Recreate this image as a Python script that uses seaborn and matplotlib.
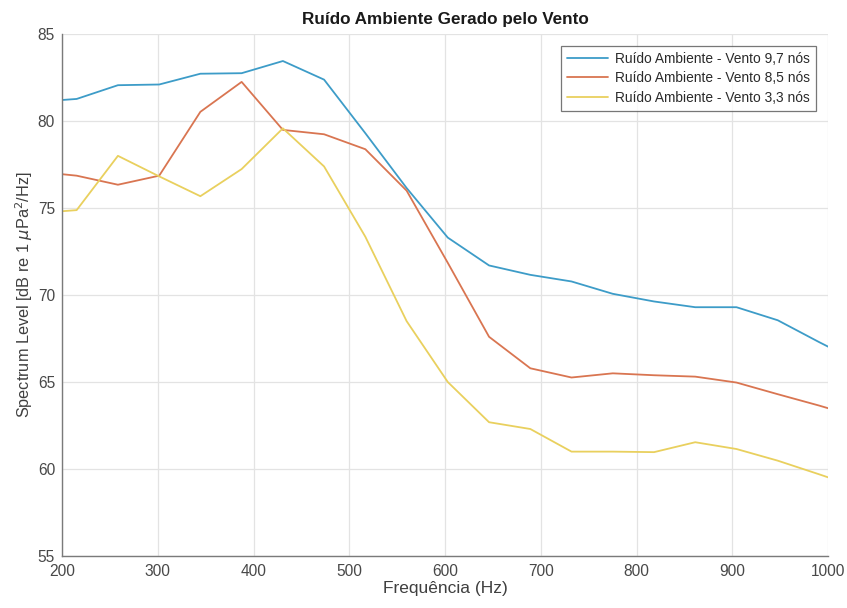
import matplotlib
matplotlib.use("Agg")
import matplotlib.pyplot as plt
import seaborn as sns
import pandas as pd

# FFT bin centres (Hz)
freq = [172.3, 215.3, 258.4, 301.5, 344.5, 387.6, 430.7, 473.7, 516.8, 559.9,
        602.9, 646.0, 689.1, 732.1, 775.2, 818.3, 861.3, 904.4, 947.5, 990.5,
        1033.6]

# Spectrum levels (dB re 1 uPa^2/Hz) for each wind speed
vento_97 = [81.10, 81.27, 82.06, 82.10, 82.72, 82.75, 83.45, 82.38, 79.30, 76.15,
            73.30, 71.70, 71.16, 70.78, 70.07, 69.63, 69.30, 69.30, 68.55, 67.30,
            66.10]
vento_85 = [77.10, 76.86, 76.34, 76.86, 80.53, 82.25, 79.49, 79.24, 78.38, 76.00,
            71.85, 67.60, 65.79, 65.26, 65.50, 65.39, 65.31, 64.97, 64.30, 63.65,
            62.95]
vento_33 = [74.70, 74.88, 78.00, 76.82, 75.68, 77.24, 79.58, 77.39, 73.35, 68.50,
            65.00, 62.69, 62.30, 61.00, 61.00, 60.97, 61.54, 61.15, 60.48, 59.70,
            58.90]

series_names = ["Ruído Ambiente - Vento 9,7 nós",
                "Ruído Ambiente - Vento 8,5 nós",
                "Ruído Ambiente - Vento 3,3 nós"]
series_colors = ["#3d9cc8", "#d97551", "#e9d05e"]

x_ticks = [200, 300, 400, 500, 600, 700, 800, 900, 1000]
y_ticks = [55, 60, 65, 70, 75, 80, 85]

frames = []
for name, vals in zip(series_names, [vento_97, vento_85, vento_33]):
    frames.append(pd.DataFrame({"freq": freq, "level": vals, "serie": name}))
df = pd.concat(frames, ignore_index=True)

sns.set_style("white")
plt.rcParams["font.family"] = ["Liberation Sans", "DejaVu Sans"]
plt.rcParams["mathtext.fontset"] = "dejavusans"

fig = plt.figure(figsize=(8.47, 6.08), dpi=100)
ax = fig.add_axes([0.0732, 0.0855, 0.9044, 0.8585])

sns.lineplot(data=df, x="freq", y="level", hue="serie",
             hue_order=series_names, palette=series_colors,
             linewidth=1.3, ax=ax, sort=False)

ax.set_xlim(200, 1000)
ax.set_ylim(55, 85)
ax.set_xticks(x_ticks)
ax.set_yticks(y_ticks)
ax.grid(True, color="#e3e3e3", linewidth=0.9)
ax.set_axisbelow(True)

for side in ["top", "right"]:
    ax.spines[side].set_visible(False)
for side in ["left", "bottom"]:
    ax.spines[side].set_color("#7a7a7a")
    ax.spines[side].set_linewidth(1.0)

ax.tick_params(axis="both", direction="in", length=5, width=0.9,
               color="#7a7a7a", labelsize=11.2, labelcolor="#484848", pad=5)
ax.tick_params(axis="x", pad=6)

ax.set_xlabel("Frequência (Hz)", fontsize=12.5, color="#3f3f3f", labelpad=1)
ax.set_ylabel(r"Spectrum Level [dB re 1 $\mu$Pa$^2$/Hz]", fontsize=11.7,
              color="#3f3f3f", labelpad=2)
ax.set_title("Ruído Ambiente Gerado pelo Vento", fontsize=12.3, fontweight="bold",
             color="#1a1a1a", pad=7)

leg = ax.legend(loc="upper right", bbox_to_anchor=(0.984, 0.978),
                fontsize=9.9, frameon=True, fancybox=False,
                handlelength=3.0, handletextpad=0.45, borderpad=0.45,
                labelspacing=0.4, borderaxespad=0)
leg.get_frame().set_edgecolor("#555555")
leg.get_frame().set_linewidth(0.9)
for t in leg.get_texts():
    t.set_color("#2a2a2a")

fig.savefig("out.png", dpi=100)
